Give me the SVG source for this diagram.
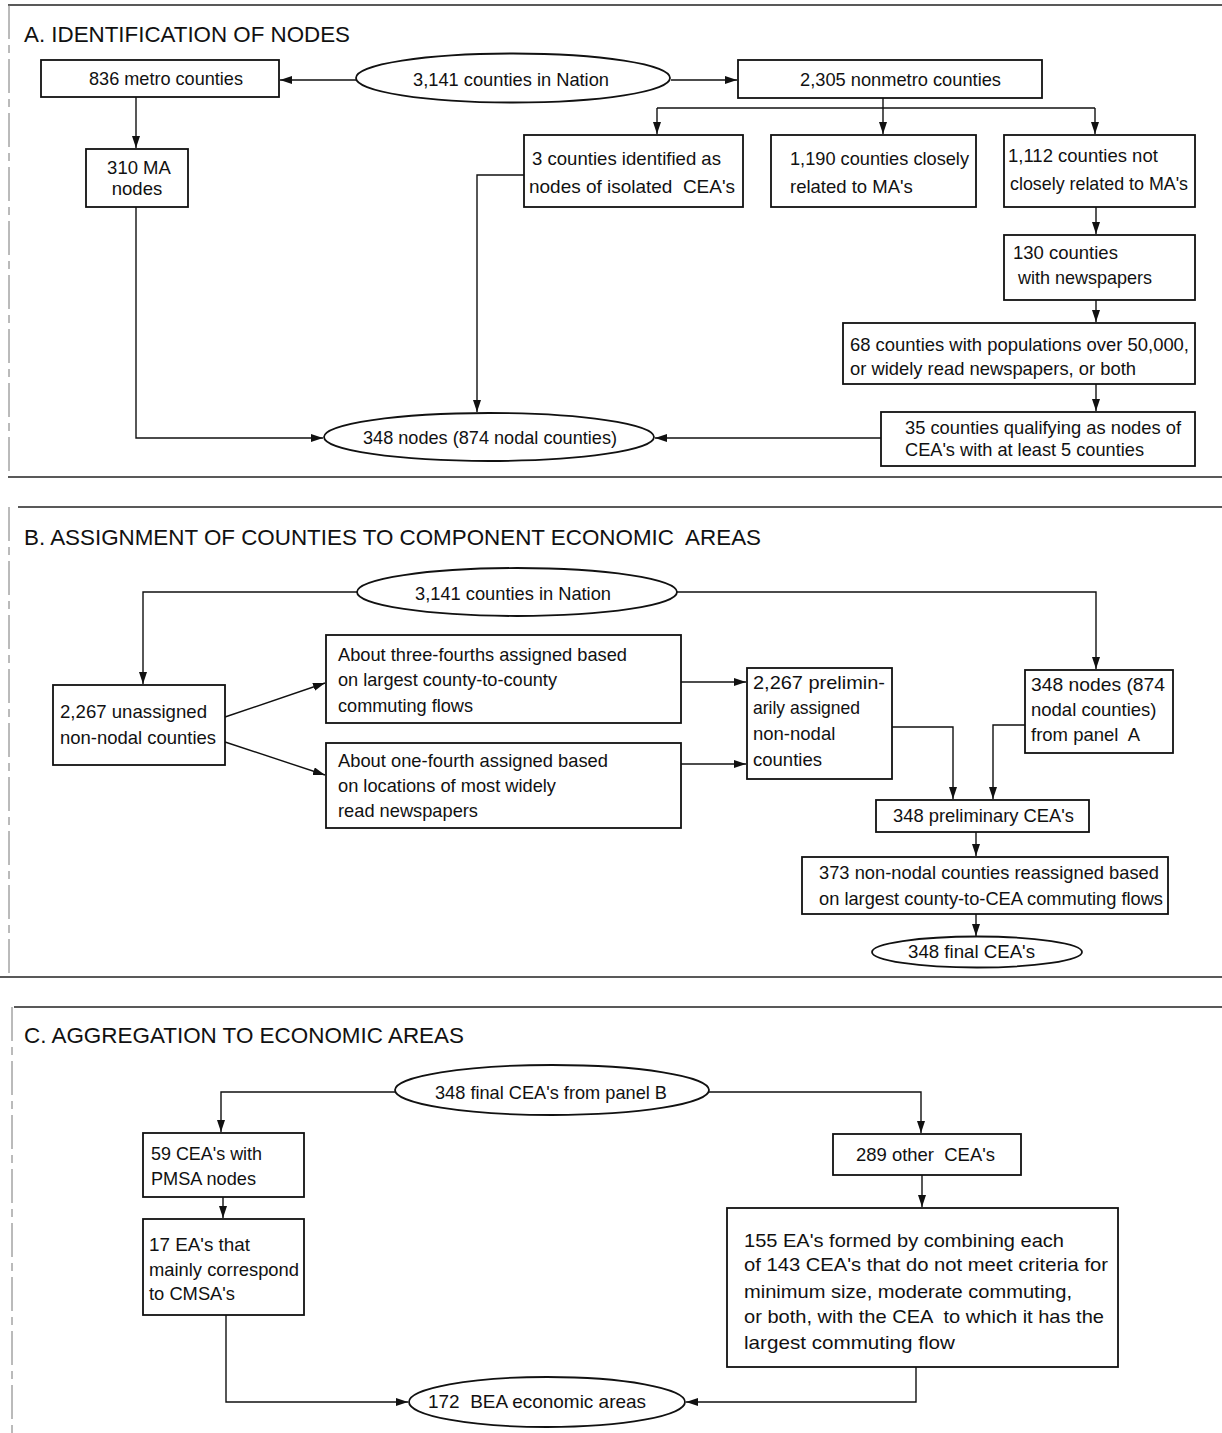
<svg xmlns="http://www.w3.org/2000/svg" width="1222" height="1433" viewBox="0 0 1222 1433">
<style>
.bx{fill:#fff;stroke:#111;stroke-width:1.8}
.el{fill:#fff;stroke:#111;stroke-width:1.8}
.c{fill:none;stroke:#111;stroke-width:1.4}
.a{marker-end:url(#ah)}
.fr{stroke:#222;stroke-width:1.3;fill:none}
.sd{stroke:#777;stroke-width:1;stroke-dasharray:34 6 8 6;fill:none}
text{font-family:"Liberation Sans",Arial,Helvetica,sans-serif;font-size:18.5px;fill:#111}
.ti{font-size:21.5px}
.m{text-anchor:middle}
</style>
<defs>
<marker id="ah" markerUnits="userSpaceOnUse" markerWidth="13" markerHeight="9" refX="12" refY="4" orient="auto">
<path d="M0,0 L12,4 L0,8 z" fill="#111"/>
</marker>
</defs>
<g id="frames">
<line class="fr" x1="8" y1="5" x2="1222" y2="5"/>
<line class="sd" x1="9" y1="5" x2="9" y2="477"/>
<line class="fr" x1="8" y1="477" x2="1222" y2="477"/>
<line class="fr" x1="18" y1="507" x2="1222" y2="507"/>
<line class="sd" x1="9" y1="507" x2="9" y2="976"/>
<line class="fr" x1="0" y1="977" x2="1222" y2="977"/>
<line class="fr" x1="14" y1="1007" x2="1222" y2="1007"/>
<line class="sd" x1="12" y1="1007" x2="12" y2="1433"/>
</g>
<g id="titles">
<text class="ti" x="24" y="42" textLength="326" lengthAdjust="spacingAndGlyphs">A. IDENTIFICATION OF NODES</text>
<text class="ti" x="24" y="545" textLength="737" lengthAdjust="spacingAndGlyphs" xml:space="preserve">B. ASSIGNMENT OF COUNTIES TO COMPONENT ECONOMIC  AREAS</text>
<text class="ti" x="24" y="1043" textLength="440" lengthAdjust="spacingAndGlyphs">C. AGGREGATION TO ECONOMIC AREAS</text>
</g>
<g id="connectors">
<polyline class="c a" points="356,80 280,80"/>
<polyline class="c a" points="671,80 737,80"/>
<polyline class="c a" points="136,97 136,148"/>
<polyline class="c a" points="136,207 136,438 323,438"/>
<polyline class="c a" points="524,175 477,175 477,412"/>
<polyline class="c" points="657,108 1095,108"/>
<polyline class="c a" points="883,98 883,134"/>
<polyline class="c a" points="657,108 657,134"/>
<polyline class="c a" points="1095,108 1095,134"/>
<polyline class="c a" points="1096,207 1096,234"/>
<polyline class="c a" points="1096,300 1096,322"/>
<polyline class="c a" points="1096,384 1096,411"/>
<polyline class="c a" points="881,438 655,438"/>
<polyline class="c a" points="358,592 143,592 143,684"/>
<polyline class="c a" points="677,592 1096,592 1096,669"/>
<polyline class="c a" points="225,717 325,683"/>
<polyline class="c a" points="225,742 325,775"/>
<polyline class="c a" points="681,682 746,682"/>
<polyline class="c a" points="681,764 746,764"/>
<polyline class="c a" points="892,727 953,727 953,799"/>
<polyline class="c a" points="1025,725 993,725 993,799"/>
<polyline class="c a" points="976,832 976,856"/>
<polyline class="c a" points="976,914 976,936"/>
<polyline class="c a" points="395,1092 221,1092 221,1132"/>
<polyline class="c a" points="709,1092 921,1092 921,1133"/>
<polyline class="c a" points="223,1197 223,1218"/>
<polyline class="c a" points="922,1175 922,1207"/>
<polyline class="c a" points="226,1315 226,1402 408,1402"/>
<polyline class="c a" points="916,1367 916,1402 686,1402"/>
</g>
<g id="n_metro"><rect class="bx" x="41" y="60" width="238" height="37"/><text x="89" y="85" textLength="154" lengthAdjust="spacingAndGlyphs">836 metro counties</text></g>
<g id="n_nation"><ellipse class="el" cx="513" cy="78" rx="157" ry="24.5"/><text x="413" y="86" textLength="196" lengthAdjust="spacingAndGlyphs">3,141 counties in Nation</text></g>
<g id="n_nonmetro"><rect class="bx" x="738" y="60" width="304" height="38"/><text x="800" y="86" textLength="201" lengthAdjust="spacingAndGlyphs">2,305 nonmetro counties</text></g>
<g id="n_ma"><rect class="bx" x="86" y="149" width="102" height="58"/><text class="m" x="139" y="174">310 MA</text><text class="m" x="137" y="195">nodes</text></g>
<g id="n_isolated"><rect class="bx" x="524" y="135" width="219" height="72"/><text x="532" y="165" textLength="189" lengthAdjust="spacingAndGlyphs">3 counties identified as</text><text x="529" y="193" textLength="206" lengthAdjust="spacingAndGlyphs" xml:space="preserve">nodes of isolated  CEA's</text></g>
<g id="n_closely"><rect class="bx" x="771" y="135" width="205" height="72"/><text x="790" y="165" textLength="179" lengthAdjust="spacingAndGlyphs">1,190 counties closely</text><text x="790" y="193">related to MA's</text></g>
<g id="n_notclosely"><rect class="bx" x="1004" y="135" width="191" height="72"/><text x="1008" y="162">1,112 counties not</text><text x="1010" y="190" textLength="178" lengthAdjust="spacingAndGlyphs">closely related to MA's</text></g>
<g id="n_news"><rect class="bx" x="1004" y="235" width="191" height="65"/><text x="1013" y="259">130 counties</text><text x="1018" y="284" textLength="134" lengthAdjust="spacingAndGlyphs">with newspapers</text></g>
<g id="n_pop"><rect class="bx" x="843" y="323" width="352" height="61"/><text x="850" y="351" textLength="339" lengthAdjust="spacingAndGlyphs">68 counties with populations over 50,000,</text><text x="850" y="375" textLength="286" lengthAdjust="spacingAndGlyphs">or widely read newspapers, or both</text></g>
<g id="n_qual"><rect class="bx" x="881" y="412" width="314" height="54"/><text x="905" y="434" textLength="276" lengthAdjust="spacingAndGlyphs">35 counties qualifying as nodes of</text><text x="905" y="456" textLength="239" lengthAdjust="spacingAndGlyphs">CEA's with at least 5 counties</text></g>
<g id="n_nodes"><ellipse class="el" cx="489" cy="437" rx="165" ry="24"/><text x="363" y="444" textLength="254" lengthAdjust="spacingAndGlyphs">348 nodes (874 nodal counties)</text></g>
<g id="n_nation_b"><ellipse class="el" cx="517" cy="592" rx="160" ry="24"/><text x="415" y="600" textLength="196" lengthAdjust="spacingAndGlyphs">3,141 counties in Nation</text></g>
<g id="n_unassigned"><rect class="bx" x="53" y="685" width="172" height="80"/><text x="60" y="718" textLength="147" lengthAdjust="spacingAndGlyphs">2,267 unassigned</text><text x="60" y="744" textLength="156" lengthAdjust="spacingAndGlyphs">non-nodal counties</text></g>
<g id="n_three"><rect class="bx" x="326" y="635" width="355" height="88"/><text x="338" y="661" textLength="289" lengthAdjust="spacingAndGlyphs">About three-fourths assigned based</text><text x="338" y="686" textLength="219" lengthAdjust="spacingAndGlyphs">on largest county-to-county</text><text x="338" y="712" textLength="135" lengthAdjust="spacingAndGlyphs">commuting flows</text></g>
<g id="n_one"><rect class="bx" x="326" y="743" width="355" height="85"/><text x="338" y="767" textLength="270" lengthAdjust="spacingAndGlyphs">About one-fourth assigned based</text><text x="338" y="792" textLength="218" lengthAdjust="spacingAndGlyphs">on locations of most widely</text><text x="338" y="817" textLength="140" lengthAdjust="spacingAndGlyphs">read newspapers</text></g>
<g id="n_prelim"><rect class="bx" x="747" y="668" width="145" height="111"/><text x="753" y="689" textLength="132" lengthAdjust="spacingAndGlyphs">2,267 prelimin-</text><text x="753" y="714" textLength="107" lengthAdjust="spacingAndGlyphs">arily assigned</text><text x="753" y="740">non-nodal</text><text x="753" y="766" textLength="69" lengthAdjust="spacingAndGlyphs">counties</text></g>
<g id="n_nodes_b"><rect class="bx" x="1025" y="670" width="148" height="83"/><text x="1031" y="691" textLength="134" lengthAdjust="spacingAndGlyphs">348 nodes (874</text><text x="1031" y="716">nodal counties)</text><text x="1031" y="741" xml:space="preserve">from panel  A</text></g>
<g id="n_prelimcea"><rect class="bx" x="876" y="800" width="213" height="32"/><text x="893" y="822" textLength="181" lengthAdjust="spacingAndGlyphs">348 preliminary CEA's</text></g>
<g id="n_reassigned"><rect class="bx" x="802" y="857" width="366" height="57"/><text x="819" y="879" textLength="340" lengthAdjust="spacingAndGlyphs">373 non-nodal counties reassigned based</text><text x="819" y="905" textLength="344" lengthAdjust="spacingAndGlyphs">on largest county-to-CEA commuting flows</text></g>
<g id="n_final"><ellipse class="el" cx="977" cy="952" rx="105" ry="15.5"/><text x="908" y="958" textLength="127" lengthAdjust="spacingAndGlyphs">348 final CEA's</text></g>
<g id="n_final_c"><ellipse class="el" cx="552" cy="1090" rx="157" ry="25"/><text x="435" y="1099" textLength="232" lengthAdjust="spacingAndGlyphs">348 final CEA's from panel B</text></g>
<g id="n_pmsa"><rect class="bx" x="143" y="1133" width="161" height="64"/><text x="151" y="1160" textLength="111" lengthAdjust="spacingAndGlyphs">59 CEA's with</text><text x="151" y="1185" textLength="105" lengthAdjust="spacingAndGlyphs">PMSA nodes</text></g>
<g id="n_cmsa"><rect class="bx" x="143" y="1219" width="161" height="96"/><text x="149" y="1251" textLength="101" lengthAdjust="spacingAndGlyphs">17 EA's that</text><text x="149" y="1276" textLength="150" lengthAdjust="spacingAndGlyphs">mainly correspond</text><text x="149" y="1300" textLength="86" lengthAdjust="spacingAndGlyphs">to CMSA's</text></g>
<g id="n_other"><rect class="bx" x="833" y="1134" width="188" height="41"/><text x="856" y="1161" textLength="139" lengthAdjust="spacingAndGlyphs" xml:space="preserve">289 other  CEA's</text></g>
<g id="n_formed"><rect class="bx" x="727" y="1208" width="391" height="159"/>
<text x="744" y="1247" textLength="320" lengthAdjust="spacingAndGlyphs">155 EA's formed by combining each</text>
<text x="744" y="1271" textLength="364" lengthAdjust="spacingAndGlyphs">of 143 CEA's that do not meet criteria for</text>
<text x="744" y="1298" textLength="328" lengthAdjust="spacingAndGlyphs">minimum size, moderate commuting,</text>
<text x="744" y="1323" textLength="360" lengthAdjust="spacingAndGlyphs" xml:space="preserve">or both, with the CEA  to which it has the</text>
<text x="744" y="1349" textLength="211" lengthAdjust="spacingAndGlyphs">largest commuting flow</text></g>
<g id="n_bea"><ellipse class="el" cx="547" cy="1402" rx="138" ry="25"/><text x="428" y="1408" textLength="218" lengthAdjust="spacingAndGlyphs" xml:space="preserve">172  BEA economic areas</text></g>
</svg>
